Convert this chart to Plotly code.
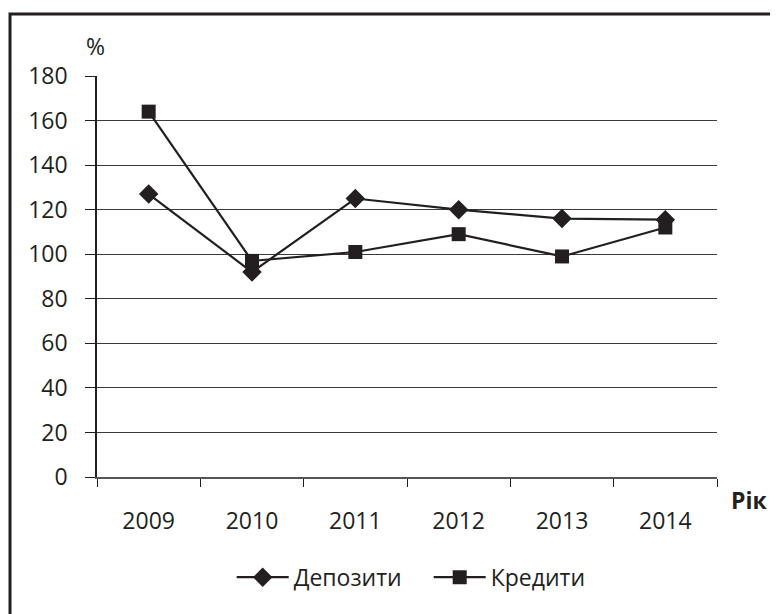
import plotly.graph_objects as go

years = ["2009", "2010", "2011", "2012", "2013", "2014"]
deposits = [127, 92, 125, 120, 116, 115.5]
credits = [164, 97, 101, 109, 99, 112]
y_ticks = [0, 20, 40, 60, 80, 100, 120, 140, 160, 180]

INK = "#231f20"
FONT = "Open Sans"
FS = 23

fig = go.Figure()
fig.add_trace(go.Scatter(
    x=years, y=deposits, name="Депозити", mode="lines+markers",
    line=dict(color=INK, width=2.2),
    marker=dict(symbol="diamond", size=15, color=INK),
))
fig.add_trace(go.Scatter(
    x=years, y=credits, name="Кредити", mode="lines+markers",
    line=dict(color=INK, width=2.2),
    marker=dict(symbol="square", size=14, color=INK),
))

fig.update_layout(
    width=770, height=606,
    margin=dict(l=89, r=61, t=68, b=137),
    paper_bgcolor="white", plot_bgcolor="white",
    font=dict(family=FONT, size=FS, color=INK),
    showlegend=True,
    legend=dict(orientation="h", x=0.535, xanchor="center", y=-0.25, yanchor="middle",
                font=dict(size=FS), itemwidth=52, entrywidth=130),
    xaxis=dict(
        type="category", range=[-0.5, 5.5], tickson="boundaries",
        ticks="outside", ticklen=8, tickcolor=INK, tickwidth=1,
        showline=True, linecolor="#555555", linewidth=1.5,
        showgrid=False, ticklabelstandoff=23,
        tickfont=dict(size=FS),
    ),
    yaxis=dict(
        range=[0, 180], tickvals=y_ticks,
        ticks="outside", ticklen=10, tickcolor=INK, tickwidth=1,
        showline=True, linecolor=INK, linewidth=1.5,
        showgrid=True, gridcolor="#3a3a3a", gridwidth=1.2,
        zeroline=False, ticklabelstandoff=13,
        tickfont=dict(size=FS),
    ),
    annotations=[
        dict(text="%", xref="paper", yref="paper", x=-0.0024, y=1.075,
             xanchor="center", yanchor="middle",
             showarrow=False, font=dict(size=FS, color=INK)),
        dict(text="<b>Рік</b>", xref="paper", yref="paper", x=1.0524, y=-0.057,
             xanchor="center", yanchor="middle",
             showarrow=False, font=dict(size=FS, color=INK)),
    ],
    shapes=[
        dict(type="rect", xref="paper", yref="paper",
             x0=-0.1403, x1=1.3, y0=-0.6, y1=1.1546,
             line=dict(color=INK, width=3), layer="below"),
    ],
)

fig.write_html("out.html")
